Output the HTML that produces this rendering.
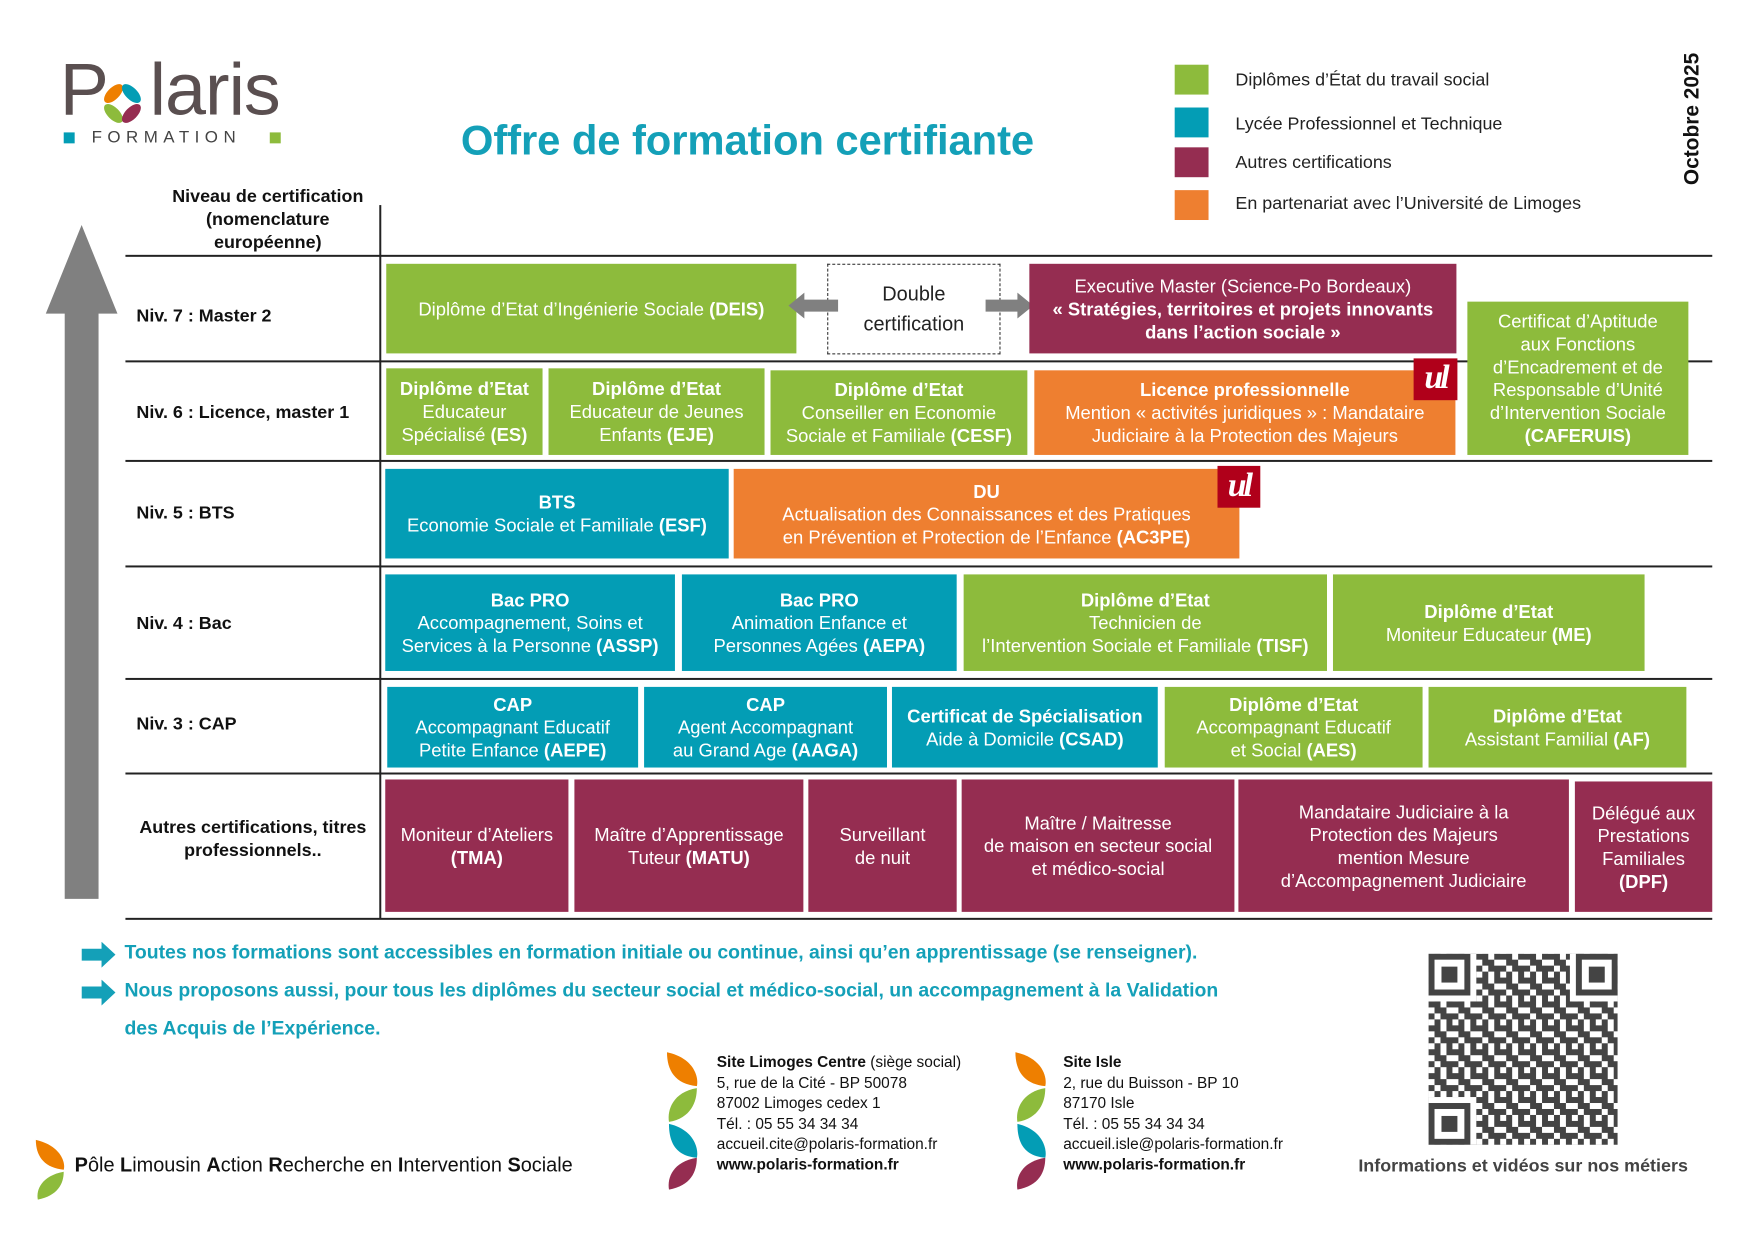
<!DOCTYPE html>
<html><head><meta charset="utf-8">
<style>
*{margin:0;padding:0;box-sizing:border-box}
body{width:1754px;height:1240px;background:#fff;position:relative;overflow:hidden;font-family:"Liberation Sans",sans-serif;color:#111}
#w{position:absolute;left:0;top:0;width:1754px;height:1240px;transform:scale(0.9955);transform-origin:0 0}
.a{position:absolute}
.b{position:absolute;display:flex;flex-direction:column;justify-content:center;align-items:center;text-align:center;color:#fff;font-size:18.5px;line-height:23px;white-space:nowrap}
.g{background:#8dbb3c}.t{background:#039db5}.p{background:#952d51}.o{background:#ee7f30}
.hl{position:absolute;left:126px;width:1594px;height:2px;background:#222}
.lab{position:absolute;left:137px;font-size:18px;font-weight:bold;white-space:nowrap}
.leg{position:absolute;left:1180px;width:34px;height:30px}
.legt{position:absolute;left:1241px;font-size:18px;white-space:nowrap;color:#222}
.ad{position:absolute;font-size:15.5px;line-height:20.5px;white-space:nowrap;color:#111}
.bt{position:absolute;left:125px;color:#14a0b8;font-weight:bold;font-size:19.5px;white-space:nowrap}
</style></head><body><div id="w">

<!-- Logo -->
<div class="a" style="left:60px;top:50px;font-size:74px;color:#5a4f50;letter-spacing:-1px;line-height:80px">P<span style="display:inline-block;width:42px"></span>laris</div>
<svg class="a" style="left:100px;top:82px" width="46" height="46" viewBox="0 0 46 46">
<ellipse cx="14" cy="12" rx="6" ry="12" transform="rotate(45 14 12)" fill="#ee7f00"/>
<ellipse cx="32" cy="12" rx="6" ry="12" transform="rotate(-45 32 12)" fill="#039db5"/>
<ellipse cx="14" cy="32" rx="6" ry="12" transform="rotate(-45 14 32)" fill="#8dbb3c"/>
<ellipse cx="32" cy="32" rx="6" ry="12" transform="rotate(45 32 32)" fill="#952d51"/>
</svg>
<div class="a" style="left:64px;top:133px;width:11px;height:11px;background:#039db5"></div>
<div class="a" style="left:92px;top:128px;font-size:17px;letter-spacing:5.5px;color:#444">FORMATION</div>
<div class="a" style="left:271px;top:133px;width:11px;height:11px;background:#8dbb3c"></div>

<!-- Title -->
<div class="a" style="left:463px;top:117px;font-size:42px;font-weight:bold;color:#14a0b8;white-space:nowrap;letter-spacing:-0.1px">Offre de formation certifiante</div>

<!-- Legend -->
<div class="leg g" style="top:65px"></div><div class="legt" style="top:70px">Diplômes d’État du travail social</div>
<div class="leg t" style="top:108px"></div><div class="legt" style="top:114px">Lycée Professionnel et Technique</div>
<div class="leg p" style="top:148px"></div><div class="legt" style="top:153px">Autres certifications</div>
<div class="leg o" style="top:191px"></div><div class="legt" style="top:194px">En partenariat avec l’Université de Limoges</div>
<div class="a" style="left:1688px;top:186px;transform:rotate(-90deg);transform-origin:0 0;font-size:21px;font-weight:bold;white-space:nowrap">Octobre 2025</div>

<!-- Table header -->
<div class="a" style="left:160px;top:186px;width:218px;text-align:center;font-size:18px;font-weight:bold;line-height:23px">Niveau de certification<br>(nomenclature<br>européenne)</div>
<div class="a" style="left:381px;top:206px;width:2px;height:717px;background:#222"></div>
<div class="hl" style="top:256px"></div>
<div class="hl" style="top:362px"></div>
<div class="hl" style="top:462px"></div>
<div class="hl" style="top:568px"></div>
<div class="hl" style="top:681px"></div>
<div class="hl" style="top:776px"></div>
<div class="hl" style="top:922px"></div>

<!-- Arrow -->
<svg class="a" style="left:44px;top:226px" width="76" height="680"><polygon points="38,0 74,89 55,89 55,677 21,677 21,89 2,89" fill="#808080"/></svg>

<div class="lab" style="top:307px">Niv. 7 : Master 2</div>
<div class="lab" style="top:404px">Niv. 6 : Licence, master 1</div>
<div class="lab" style="top:505px">Niv. 5 : BTS</div>
<div class="lab" style="top:616px">Niv. 4 : Bac</div>
<div class="lab" style="top:717px">Niv. 3 : CAP</div>
<div class="a" style="left:130px;top:820px;width:248px;text-align:center;font-size:18px;font-weight:bold;line-height:23px">Autres certifications, titres<br>professionnels..</div>

<!-- Row 7 -->
<div class="b g" style="left:388px;top:265px;width:412px;height:90px"><div>Diplôme d’Etat d’Ingénierie Sociale <b>(DEIS)</b></div></div>
<div class="b" style="left:831px;top:265px;width:174px;height:91px;border:1.5px dashed #222;color:#222;font-size:20px;line-height:30px"><div>Double</div><div>certification</div></div>
<svg class="a" style="left:792px;top:292px" width="50" height="30"><polygon points="0,15 16,2 16,9 50,9 50,21 16,21 16,28" fill="#808080"/></svg>
<svg class="a" style="left:990px;top:292px" width="48" height="30"><polygon points="48,15 32,2 32,9 0,9 0,21 32,21 32,28" fill="#808080"/></svg>
<div class="b p" style="left:1034px;top:265px;width:429px;height:90px"><div>Executive Master (Science-Po Bordeaux)</div><div><b>« Stratégies, territoires et projets innovants</b></div><div><b>dans l’action sociale »</b></div></div>
<div class="b g" style="left:1474px;top:303px;width:222px;height:154px"><div>Certificat d’Aptitude</div><div>aux Fonctions</div><div>d’Encadrement et de</div><div>Responsable d’Unité</div><div>d’Intervention Sociale</div><div><b>(CAFERUIS)</b></div></div>

<!-- Row 6 -->
<div class="b g" style="left:388px;top:370px;width:157px;height:87px"><div><b>Diplôme d’Etat</b></div><div>Educateur</div><div>Spécialisé <b>(ES)</b></div></div>
<div class="b g" style="left:551px;top:370px;width:217px;height:87px"><div><b>Diplôme d’Etat</b></div><div>Educateur de Jeunes</div><div>Enfants <b>(EJE)</b></div></div>
<div class="b g" style="left:774px;top:372px;width:258px;height:85px"><div><b>Diplôme d’Etat</b></div><div>Conseiller en Economie</div><div>Sociale et Familiale <b>(CESF)</b></div></div>
<div class="b o" style="left:1039px;top:372px;width:423px;height:85px"><div><b>Licence professionnelle</b></div><div>Mention « activités juridiques » : Mandataire</div><div>Judiciaire à la Protection des Majeurs</div></div>
<div class="a" style="left:1420px;top:360px;width:44px;height:42px;background:#b0001a;color:#fff;font:italic bold 34px/40px 'Liberation Serif',serif;text-align:center;letter-spacing:-3px">ul</div>

<!-- Row 5 -->
<div class="b t" style="left:387px;top:471px;width:345px;height:90px"><div><b>BTS</b></div><div>Economie Sociale et Familiale <b>(ESF)</b></div></div>
<div class="b o" style="left:737px;top:471px;width:508px;height:90px"><div><b>DU</b></div><div>Actualisation des Connaissances et des Pratiques</div><div>en Prévention et Protection de l’Enfance <b>(AC3PE)</b></div></div>
<div class="a" style="left:1223px;top:468px;width:43px;height:42px;background:#b0001a;color:#fff;font:italic bold 34px/40px 'Liberation Serif',serif;text-align:center;letter-spacing:-3px">ul</div>

<!-- Row 4 -->
<div class="b t" style="left:387px;top:577px;width:291px;height:97px"><div><b>Bac PRO</b></div><div>Accompagnement, Soins et</div><div>Services à la Personne <b>(ASSP)</b></div></div>
<div class="b t" style="left:685px;top:577px;width:276px;height:97px"><div><b>Bac PRO</b></div><div>Animation Enfance et</div><div>Personnes Agées <b>(AEPA)</b></div></div>
<div class="b g" style="left:968px;top:577px;width:365px;height:97px"><div><b>Diplôme d’Etat</b></div><div>Technicien de</div><div>l’Intervention Sociale et Familiale <b>(TISF)</b></div></div>
<div class="b g" style="left:1339px;top:577px;width:313px;height:97px"><div><b>Diplôme d’Etat</b></div><div>Moniteur Educateur <b>(ME)</b></div></div>

<!-- Row 3 -->
<div class="b t" style="left:389px;top:690px;width:252px;height:81px"><div><b>CAP</b></div><div>Accompagnant Educatif</div><div>Petite Enfance <b>(AEPE)</b></div></div>
<div class="b t" style="left:647px;top:690px;width:244px;height:81px"><div><b>CAP</b></div><div>Agent Accompagnant</div><div>au Grand Age <b>(AAGA)</b></div></div>
<div class="b t" style="left:896px;top:690px;width:267px;height:81px"><div><b>Certificat de Spécialisation</b></div><div>Aide à Domicile <b>(CSAD)</b></div></div>
<div class="b g" style="left:1170px;top:690px;width:259px;height:81px"><div><b>Diplôme d’Etat</b></div><div>Accompagnant Educatif</div><div>et Social <b>(AES)</b></div></div>
<div class="b g" style="left:1435px;top:690px;width:259px;height:81px"><div><b>Diplôme d’Etat</b></div><div>Assistant Familial <b>(AF)</b></div></div>

<!-- Row autres -->
<div class="b p" style="left:387px;top:783px;width:184px;height:133px"><div>Moniteur d’Ateliers</div><div><b>(TMA)</b></div></div>
<div class="b p" style="left:577px;top:783px;width:230px;height:133px"><div>Maître d’Apprentissage</div><div>Tuteur <b>(MATU)</b></div></div>
<div class="b p" style="left:812px;top:783px;width:149px;height:133px"><div>Surveillant</div><div>de nuit</div></div>
<div class="b p" style="left:966px;top:783px;width:274px;height:133px"><div>Maître / Maitresse</div><div>de maison en secteur social</div><div>et médico-social</div></div>
<div class="b p" style="left:1244px;top:783px;width:332px;height:133px"><div>Mandataire Judiciaire à la</div><div>Protection des Majeurs</div><div>mention Mesure</div><div>d’Accompagnement Judiciaire</div></div>
<div class="b p" style="left:1582px;top:785px;width:138px;height:131px"><div>Délégué aux</div><div>Prestations</div><div>Familiales</div><div><b>(DPF)</b></div></div>

<!-- bottom statements -->
<svg class="a" style="left:82px;top:946px" width="34" height="26"><polygon points="0,7 20,7 20,0 34,13 20,26 20,19 0,19" fill="#14a0b8"/></svg>
<svg class="a" style="left:82px;top:984px" width="34" height="26"><polygon points="0,7 20,7 20,0 34,13 20,26 20,19 0,19" fill="#14a0b8"/></svg>
<div class="bt" style="top:946px">Toutes nos formations sont accessibles en formation initiale ou continue, ainsi qu’en apprentissage (se renseigner).</div>
<div class="bt" style="top:984px">Nous proposons aussi, pour tous les diplômes du secteur social et médico-social, un accompagnement à la Validation</div>
<div class="bt" style="top:1022px">des Acquis de l’Expérience.</div>

<!-- leaves -->
<svg class="a" style="left:668px;top:1055px" width="36" height="140" viewBox="0 0 36 140">
<path d="M2,2 C30,8 34,28 32,36 C10,34 2,20 2,2Z" fill="#ee7f00"/>
<path d="M32,38 C8,42 2,60 4,72 C26,68 32,52 32,38Z" fill="#8dbb3c"/>
<path d="M4,74 C30,80 34,100 32,108 C10,106 4,92 4,74Z" fill="#039db5"/>
<path d="M32,108 C8,112 2,128 4,140 C26,136 32,122 32,108Z" fill="#952d51"/>
</svg>
<svg class="a" style="left:1018px;top:1055px" width="36" height="140" viewBox="0 0 36 140">
<path d="M2,2 C30,8 34,28 32,36 C10,34 2,20 2,2Z" fill="#ee7f00"/>
<path d="M32,38 C8,42 2,60 4,72 C26,68 32,52 32,38Z" fill="#8dbb3c"/>
<path d="M4,74 C30,80 34,100 32,108 C10,106 4,92 4,74Z" fill="#039db5"/>
<path d="M32,108 C8,112 2,128 4,140 C26,136 32,122 32,108Z" fill="#952d51"/>
</svg>
<svg class="a" style="left:34px;top:1143px" width="34" height="64" viewBox="0 0 34 64">
<path d="M2,2 C28,8 32,26 30,32 C10,30 2,18 2,2Z" fill="#ee7f00"/>
<path d="M30,34 C8,38 2,52 4,62 C24,58 30,46 30,34Z" fill="#8dbb3c"/>
</svg>

<div class="ad" style="left:720px;top:1058px"><b>Site Limoges Centre</b> (siège social)<br>5, rue de la Cité - BP 50078<br>87002 Limoges cedex 1<br>Tél. : 05 55 34 34 34<br>accueil.cite@polaris-formation.fr<br><b>www.polaris-formation.fr</b></div>
<div class="ad" style="left:1068px;top:1058px"><b>Site Isle</b><br>2, rue du Buisson - BP 10<br>87170 Isle<br>Tél. : 05 55 34 34 34<br>accueil.isle@polaris-formation.fr<br><b>www.polaris-formation.fr</b></div>

<div class="a" style="left:75px;top:1160px;font-size:20px;white-space:nowrap;color:#111"><b>P</b>ôle <b>L</b>imousin <b>A</b>ction <b>R</b>echerche en <b>I</b>ntervention <b>S</b>ociale</div>

<!-- QR -->
<svg class="a" style="left:1435px;top:958px" width="190" height="192" viewBox="0 0 190 192">
<defs><pattern id="q" width="24" height="24" patternUnits="userSpaceOnUse">
<rect x="0" y="0" width="6" height="6" fill="#444"/><rect x="6" y="0" width="6" height="6" fill="#444"/><rect x="18" y="0" width="6" height="6" fill="#444"/>
<rect x="6" y="6" width="6" height="6" fill="#444"/><rect x="12" y="6" width="6" height="6" fill="#444"/>
<rect x="0" y="12" width="6" height="6" fill="#444"/><rect x="12" y="12" width="6" height="6" fill="#444"/><rect x="18" y="12" width="6" height="6" fill="#444"/>
<rect x="6" y="18" width="6" height="6" fill="#444"/><rect x="18" y="18" width="6" height="6" fill="#444"/>
</pattern></defs>
<rect x="0" y="0" width="190" height="192" fill="url(#q)"/>
<rect x="0" y="0" width="48" height="48" fill="#fff"/><rect x="142" y="0" width="48" height="48" fill="#fff"/><rect x="0" y="144" width="48" height="48" fill="#fff"/>
<rect x="3" y="3" width="36" height="36" fill="none" stroke="#444" stroke-width="6"/><rect x="13" y="13" width="16" height="16" fill="#444"/>
<rect x="151" y="3" width="36" height="36" fill="none" stroke="#444" stroke-width="6"/><rect x="161" y="13" width="16" height="16" fill="#444"/>
<rect x="3" y="153" width="36" height="36" fill="none" stroke="#444" stroke-width="6"/><rect x="13" y="163" width="16" height="16" fill="#444"/>
</svg>
<div class="a" style="left:1360px;top:1161px;width:340px;text-align:center;font-size:18px;font-weight:bold;color:#444;white-space:nowrap">Informations et vidéos sur nos métiers</div>

</div></body></html>
